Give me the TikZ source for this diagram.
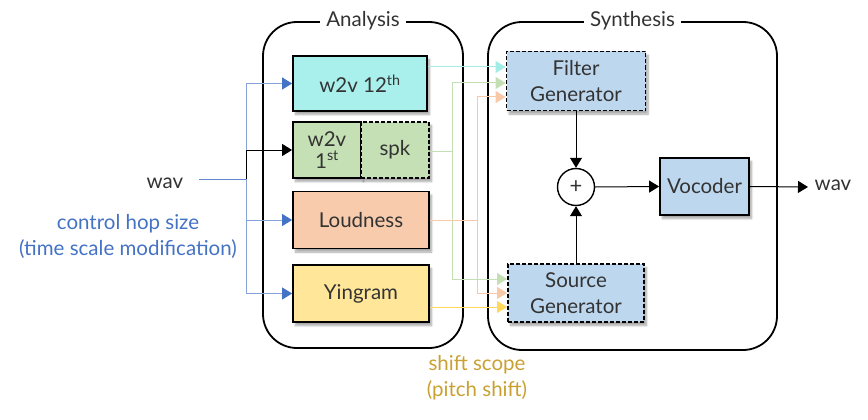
\documentclass[tikz,border=0pt]{standalone}
\usepackage{fontspec}
\setmainfont{Lato}
\usetikzlibrary{arrows.meta,shadows.blur,calc}
\definecolor{cyanf}{HTML}{A9EFEC}
\definecolor{greenf}{HTML}{C5E0B4}
\definecolor{orangef}{HTML}{F8CBAD}
\definecolor{yellowf}{HTML}{FFE699}
\definecolor{bluef}{HTML}{BDD7EE}
\definecolor{txt}{HTML}{333333}
\definecolor{ctlblue}{HTML}{4472C4}
\definecolor{gold}{HTML}{C9A032}
\definecolor{cyanl}{HTML}{A3ECE8}
\definecolor{greenl}{HTML}{C5DFB5}
\definecolor{orangel}{HTML}{F8C8A8}
\definecolor{yellowl}{HTML}{FFD95E}
\begin{document}
\begin{tikzpicture}[x=1pt,y=-1pt,
  lbl/.style={font=\fontsize{20.5}{26}\selectfont, text=txt, align=center},
  box/.style={lbl, draw=black, line width=1.8pt, inner sep=0pt,
    blur shadow={shadow xshift=2.5pt, shadow yshift=-3.5pt, shadow blur steps=6, shadow opacity=35}},
  dbox/.style={box, dash pattern=on 4pt off 2pt},
  grp/.style={draw=black, line width=1.8pt, rounded corners=34pt, inner sep=0pt},
  ttl/.style={lbl, fill=white, inner xsep=6pt, inner ysep=2pt},
  conn/.style={line width=1pt},
  tip/.style={-{Triangle[length=10pt,width=12pt]}},
  btip/.style={conn, draw=ctlblue!65, -{Triangle[length=10pt,width=12pt,color=ctlblue]}},
]
\useasboundingbox (0,0) rectangle (868,420);

% groups
\node[grp, minimum width=200pt, minimum height=326pt] (ana) at (363,185) {};
\node[grp, minimum width=289pt, minimum height=328pt] (syn) at (632.5,186) {};
\node[ttl] (anat) at (ana.north) {Analysis};
\node[ttl] (synt) at (syn.north) {Synthesis};

% analysis boxes
\node[box, fill=cyanf, minimum width=134pt, minimum height=55pt] (w12) at (360,83.5) {w2v 12\textsuperscript{th}};
\node[box, fill=greenf, minimum width=68pt, minimum height=56pt, font=\fontsize{20.5}{22}\selectfont] (w1) at (327,150) {w2v\\1\textsuperscript{st}};
\node[dbox, fill=greenf, minimum width=68pt, minimum height=56pt] (spk) at (395,150) {spk};
\node[box, fill=orangef, minimum width=136pt, minimum height=57pt] (loud) at (361,220) {Loudness};
\node[box, fill=yellowf, minimum width=136pt, minimum height=57pt] (ying) at (361,293.5) {Yingram};

% synthesis boxes
\node[dbox, fill=bluef, minimum width=139pt, minimum height=59pt] (filt) at (576,81) {Filter\\Generator};
\node[dbox, fill=bluef, minimum width=136pt, minimum height=58pt] (src) at (576,293) {Source\\Generator};
\node[draw=black, line width=1.4pt, circle, minimum size=37pt, inner sep=0pt, text=txt, font=\fontsize{22}{22}\selectfont] (plus) at (576,187) {+};
\node[box, fill=bluef, minimum width=89pt, minimum height=57pt] (voc) at (704.5,186.5) {Vocoder};

% input side
\node[lbl] (wavin) at (165,183) {wav};
\coordinate (bus) at (246,179);
\draw[conn, draw=ctlblue!85] ([xshift=12pt]wavin.east |- bus) -- (bus);
\draw[btip] (bus) |- (w12.west);
\draw[btip] (bus) |- (loud.west);
\draw[btip] (bus) |- (ying.west);
\draw[conn, tip] (bus) |- (w1.west);
\node[lbl, text=ctlblue] (ctl) at (128,236) {control hop size\\(time scale modification)};
\node[lbl, text=gold] (shift) at (477,378) {shift scope\\(pitch shift)};

% feature connectors
\coordinate (f1) at ([yshift=14pt]filt.west);
\coordinate (f2) at ([yshift=-2pt]filt.west);
\coordinate (f3) at ([yshift=-16pt]filt.west);
\coordinate (s1) at ([yshift=14pt]src.west);
\coordinate (s2) at (src.west);
\coordinate (s3) at ([yshift=-14pt]src.west);
\draw[conn, draw=cyanl, tip] (w12.east |- f1) -- (f1);
\draw[conn, draw=greenl, tip] ([yshift=-1pt]spk.east) -- ++(23,0) |- (f2);
\draw[conn, draw=greenl, tip] ([yshift=-1pt]spk.east) -- ++(23,0) |- (s1);
\draw[conn, draw=orangel, tip] (loud.east) -- ++(48,0) |- (f3);
\draw[conn, draw=orangel, tip] (loud.east) -- ++(48,0) |- (s2);
\draw[conn, draw=yellowl, tip] (ying.east |- s3) -- (s3);

% synthesis connectors
\coordinate (out) at (808,187);
\draw[conn, tip] (filt.south) -- (plus.north);
\draw[conn, tip] (src.north) -- (plus.south);
\draw[conn, tip] (plus.east) -- (voc.west);
\draw[conn, tip] (voc.east) -- (out);
\node[lbl] (wavout) at (833,185) {wav};
\end{tikzpicture}
\end{document}
